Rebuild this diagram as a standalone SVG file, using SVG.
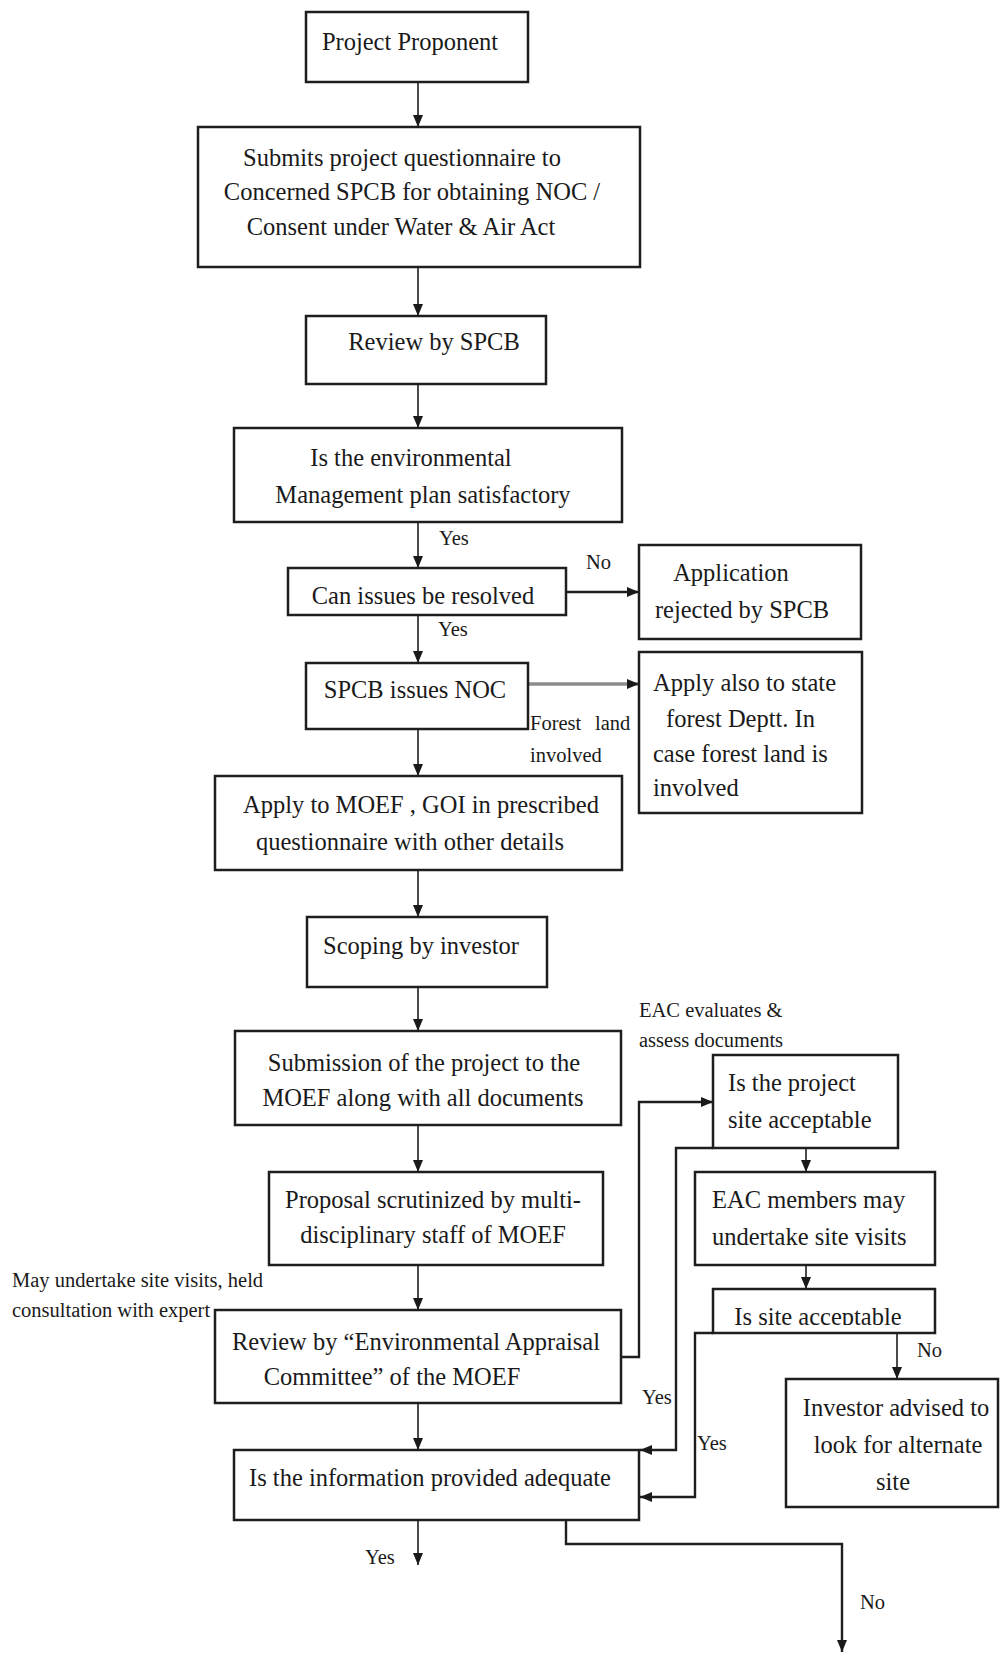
<svg xmlns="http://www.w3.org/2000/svg" width="1000" height="1654" viewBox="0 0 1000 1654">
<style>
.box{fill:#fff;stroke:#1e1e1e;stroke-width:2.5}
.t{font-family:"Liberation Serif","Times New Roman",serif;font-size:24.5px;fill:#1a1a1a}
.m{text-anchor:middle}
.lbl{font-family:"Liberation Serif","Times New Roman",serif;font-size:20.5px;fill:#1a1a1a}
.c{fill:none;stroke:#1e1e1e;stroke-width:1.6}
.cb{fill:none;stroke:#1e1e1e;stroke-width:2.4}
.cg{fill:none;stroke:#8c8c8c;stroke-width:3.5}
</style>
<defs>
<marker id="ah" viewBox="0 0 12 10" refX="12" refY="5" markerWidth="12" markerHeight="10" markerUnits="userSpaceOnUse" orient="auto">
<path d="M0,0 L12,5 L0,10 z" fill="#1a1a1a"/>
</marker>
<clipPath id="clipSite"><rect x="713" y="1289" width="222" height="36"/></clipPath>
</defs>
<rect width="1000" height="1654" fill="#fff"/>

<g id="connectors">
<path class="c" d="M418,82 V127" marker-end="url(#ah)"/>
<path class="c" d="M418,267 V316" marker-end="url(#ah)"/>
<path class="c" d="M418,384 V428" marker-end="url(#ah)"/>
<path class="c" d="M418,522 V568" marker-end="url(#ah)"/>
<path class="c" d="M418,615 V663" marker-end="url(#ah)"/>
<path class="c" d="M418,729 V776" marker-end="url(#ah)"/>
<path class="c" d="M418,870 V917" marker-end="url(#ah)"/>
<path class="c" d="M418,987 V1031" marker-end="url(#ah)"/>
<path class="c" d="M418,1125 V1172" marker-end="url(#ah)"/>
<path class="c" d="M418,1265 V1310" marker-end="url(#ah)"/>
<path class="c" d="M418,1403 V1450" marker-end="url(#ah)"/>
<path class="c" d="M418,1520 V1565" marker-end="url(#ah)"/>
<path class="cb" d="M566,592 H639" marker-end="url(#ah)"/>
<path class="cg" d="M528,684 H639" marker-end="url(#ah)"/>
<path class="cb" d="M621,1357 H639 V1102 H713" marker-end="url(#ah)"/>
<path class="cb" d="M713,1148 H676 V1450 H640" marker-end="url(#ah)"/>
<path class="c" d="M806,1148 V1172" marker-end="url(#ah)"/>
<path class="c" d="M806,1265 V1289" marker-end="url(#ah)"/>
<path class="c" d="M897,1333 V1379" marker-end="url(#ah)"/>
<path class="cb" d="M713,1333 H695 V1497 H640" marker-end="url(#ah)"/>
<path class="cb" d="M566,1520 V1544 H842 V1652" marker-end="url(#ah)"/>
</g>

<g id="n1"><rect class="box" x="306" y="12" width="222" height="70"/>
<text class="t m" x="410" y="50">Project Proponent</text></g>

<g id="n2"><rect class="box" x="198" y="127" width="442" height="140"/>
<text class="t m" x="402" y="166">Submits project questionnaire to</text>
<text class="t m" x="412" y="200">Concerned SPCB for obtaining NOC /</text>
<text class="t m" x="401" y="235">Consent under Water &amp; Air Act</text></g>

<g id="n3"><rect class="box" x="306" y="316" width="240" height="68"/>
<text class="t m" x="434" y="350">Review by SPCB</text></g>

<g id="n4"><rect class="box" x="234" y="428" width="388" height="94"/>
<text class="t m" x="411" y="466">Is the environmental</text>
<text class="t m" x="423" y="503">Management plan satisfactory</text></g>

<g id="n5"><rect class="box" x="288" y="568" width="278" height="47"/>
<text class="t m" x="423" y="604">Can issues be resolved</text></g>

<g id="n6"><rect class="box" x="639" y="545" width="222" height="94"/>
<text class="t m" x="731" y="581">Application</text>
<text class="t m" x="742" y="618">rejected by SPCB</text></g>

<g id="n7"><rect class="box" x="306" y="663" width="222" height="66"/>
<text class="t m" x="415" y="698">SPCB issues NOC</text></g>

<g id="n8"><rect class="box" x="639" y="652" width="223" height="161"/>
<text class="t" x="653" y="691">Apply also to state</text>
<text class="t" x="666" y="727">forest Deptt. In</text>
<text class="t" x="653" y="762">case forest land is</text>
<text class="t" x="653" y="796">involved</text></g>

<g id="n9"><rect class="box" x="215" y="776" width="407" height="94"/>
<text class="t m" x="421" y="813">Apply to MOEF , GOI in prescribed</text>
<text class="t m" x="410" y="850">questionnaire with other details</text></g>

<g id="n10"><rect class="box" x="307" y="917" width="240" height="70"/>
<text class="t m" x="421" y="954">Scoping by investor</text></g>

<g id="n11"><rect class="box" x="235" y="1031" width="386" height="94"/>
<text class="t m" x="424" y="1071">Submission of the project to the</text>
<text class="t m" x="423" y="1106">MOEF along with all documents</text></g>

<g id="n12"><rect class="box" x="269" y="1172" width="334" height="93"/>
<text class="t m" x="433" y="1208">Proposal scrutinized by multi-</text>
<text class="t m" x="433" y="1243">disciplinary staff of MOEF</text></g>

<g id="n13"><rect class="box" x="215" y="1310" width="406" height="93"/>
<text class="t m" x="416" y="1350">Review by “Environmental Appraisal</text>
<text class="t m" x="392" y="1385">Committee” of the MOEF</text></g>

<g id="n14"><rect class="box" x="713" y="1055" width="185" height="93"/>
<text class="t" x="728" y="1091">Is the project</text>
<text class="t" x="728" y="1128">site acceptable</text></g>

<g id="n15"><rect class="box" x="695" y="1172" width="240" height="93"/>
<text class="t" x="712" y="1208">EAC members may</text>
<text class="t" x="712" y="1245">undertake site visits</text></g>

<g id="n16"><rect class="box" x="713" y="1289" width="222" height="44"/>
<text class="t m" x="818" y="1325" clip-path="url(#clipSite)">Is site acceptable</text></g>

<g id="n17"><rect class="box" x="786" y="1379" width="212" height="128"/>
<text class="t m" x="896" y="1416">Investor advised to</text>
<text class="t m" x="898" y="1453">look for alternate</text>
<text class="t m" x="893" y="1490">site</text></g>

<g id="n18"><rect class="box" x="234" y="1450" width="405" height="70"/>
<text class="t m" x="430" y="1486">Is the information provided adequate</text></g>

<g id="labels">
<text class="lbl" x="439" y="545">Yes</text>
<text class="lbl" x="586" y="569">No</text>
<text class="lbl" x="438" y="636">Yes</text>
<text class="lbl" y="730"><tspan x="530">Forest </tspan><tspan x="595">land</tspan></text>
<text class="lbl" x="530" y="762">involved</text>
<text class="lbl" x="639" y="1017">EAC evaluates &amp;</text>
<text class="lbl" x="639" y="1047">assess documents</text>
<text class="lbl" x="12" y="1287">May undertake site visits, held</text>
<text class="lbl" x="12" y="1317">consultation with expert</text>
<text class="lbl" x="642" y="1404">Yes</text>
<text class="lbl" x="697" y="1450">Yes</text>
<text class="lbl" x="917" y="1357">No</text>
<text class="lbl" x="365" y="1564">Yes</text>
<text class="lbl" x="860" y="1609">No</text>
</g>
</svg>
